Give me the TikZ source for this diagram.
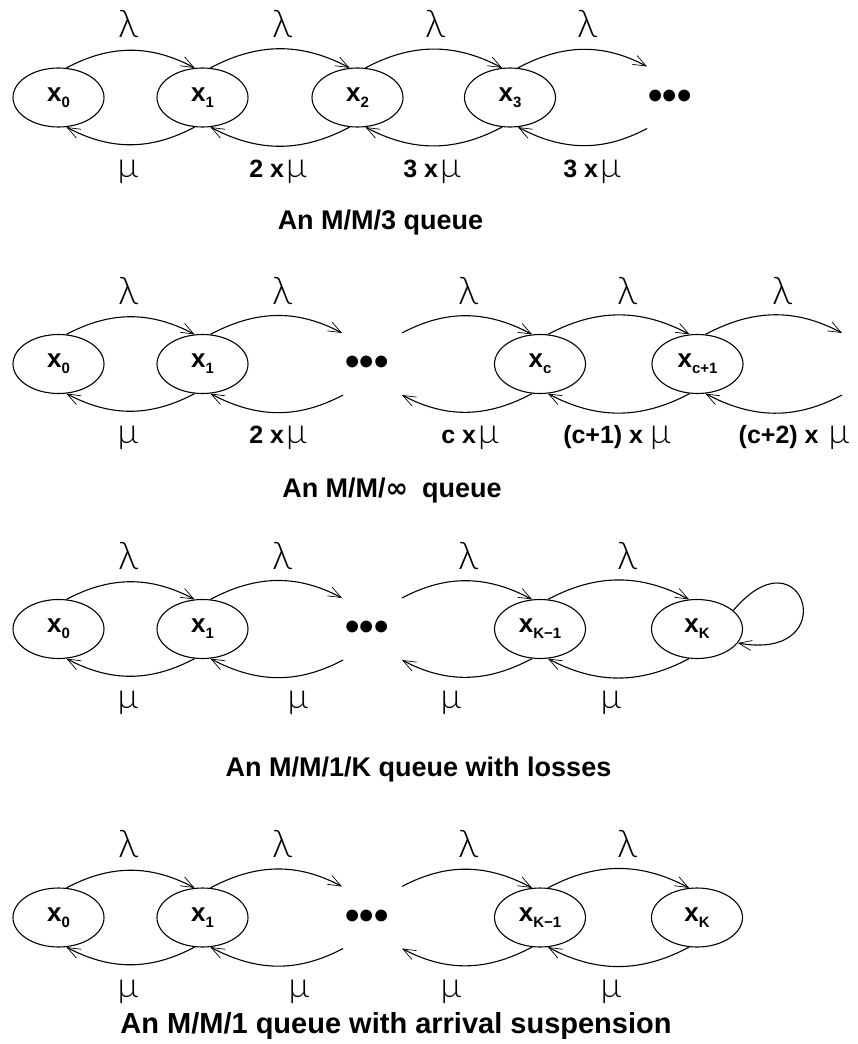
\documentclass[tikz,border=0pt]{standalone}
\usepackage{fontspec}
\setmainfont{Liberation Sans}
\newfontfamily\greekfont{Lato Light}
\newfontfamily\symbfont{DejaVu Sans}
\usetikzlibrary{shapes.geometric,arrows.meta}

% rate symbols and state names
\newcommand{\lam}{{\greekfont\mdseries\fontsize{38}{38}\selectfont λ}}
\newcommand{\mmu}{{\greekfont\mdseries\fontsize{35}{35}\selectfont μ}}
\newcommand{\xsub}[1]{x\raisebox{-6pt}{\fontsize{15}{15}\selectfont #1}}

\tikzset{
  stnode/.style={ellipse, draw, line width=1.1pt, minimum width=91pt, minimum height=59pt,
    inner sep=0pt, font=\fontsize{26}{26}\selectfont\bfseries},
  trans/.style={line width=1.1pt, -{Straight Barb[length=13pt,width=10pt,line width=0.7pt]}},
  fwd/.style={trans, out=28, in=152},
  bwd/.style={trans, out=-152, in=-28},
  rate/.style={anchor=base, font=\fontsize{25}{25}\selectfont\bfseries},
  caption/.style={anchor=base, font=\fontsize{27}{27}\selectfont\bfseries},
  dots/.style={font=\fontsize{41}{41}\selectfont\bfseries, inner sep=0pt}
}

\begin{document}
\begin{tikzpicture}[x=1pt, y=-1pt]
  % y grows downward, one unit per point
  \useasboundingbox (0,0) rectangle (858,1044);

  % M/M/3
  \begin{scope}[shift={(0,97.5)}]
    \node[stnode] (a0) at (58.5,0) {\xsub{0}};
    \node[stnode] (a1) at (202.5,0) {\xsub{1}};
    \node[stnode] (a2) at (357.5,0) {\xsub{2}};
    \node[stnode] (a3) at (510,0) {\xsub{3}};
    \node[dots] (a4) at (670,2) {•••};
    \coordinate (a4t) at (647,-31);
    \coordinate (a4b) at (647,31);
    \foreach \i/\j in {a0/a1,a1/a2,a2/a3} {
      \draw[fwd] (\i.75) to (\j.105);
      \draw[bwd] (\j.-105) to (\i.-75);
    }
    \draw[fwd] (a3.75) to (a4t);
    \draw[bwd] (a4b) to (a3.-75);
    \foreach \x/\n in {128/1,282/2,435/3,587/4}
      \node[rate] (al\n) at (\x,-60) {\lam};
    \node[rate] (am1) at (128,79.5) {\mmu};
    \node[rate] (am2) at (278,79.5) {2 x\hspace{2pt}\mmu};
    \node[rate] (am3) at (432,79.5) {3 x\hspace{2pt}\mmu};
    \node[rate] (am4) at (592,79.5) {3 x\hspace{2pt}\mmu};
  \end{scope}
  \node[caption] (capa) at (380.5,229) {An M/M/3 queue};

  % M/M/infinity
  \begin{scope}[shift={(0,364)}]
    \node[stnode] (b0) at (58.5,0) {\xsub{0}};
    \node[stnode] (b1) at (202.5,0) {\xsub{1}};
    \node[dots] (b2) at (367,2) {•••};
    \node[stnode] (b3) at (540,0) {\xsub{c}};
    \node[stnode] (b4) at (697.5,0) {\xsub{c+1}};
    \coordinate (b2lt) at (342,-31);
    \coordinate (b2lb) at (343,31);
    \coordinate (b2rt) at (402,-31);
    \coordinate (b2rb) at (402,31);
    \coordinate (b5t) at (842,-31);
    \coordinate (b5b) at (842,31);
    \foreach \i/\j in {b0/b1,b3/b4} {
      \draw[fwd] (\i.75) to (\j.105);
      \draw[bwd] (\j.-105) to (\i.-75);
    }
    \draw[fwd] (b1.75) to (b2lt);
    \draw[bwd] (b2lb) to (b1.-75);
    \draw[fwd] (b2rt) to (b3.105);
    \draw[bwd] (b3.-105) to (b2rb);
    \draw[fwd] (b4.75) to (b5t);
    \draw[bwd] (b5b) to (b4.-75);
    \foreach \x/\n in {128/1,282/2,468/3,627/4,782/5}
      \node[rate] (bl\n) at (\x,-60) {\lam};
    \node[rate] (bm1) at (128,79.5) {\mmu};
    \node[rate] (bm2) at (278,79.5) {2 x\hspace{2pt}\mmu};
    \node[rate] (bm3) at (470,79.5) {c x\hspace{2pt}\mmu};
    \node[rate] (bm4) at (617,79.5) {(c+1) x \mmu};
    \node[rate] (bm5) at (794,79.5) {(c+2) x\hspace{10pt}\mmu};
  \end{scope}
  \node[caption] (capb) at (392,497) {An M/M/{\symbfont\bfseries ∞}\hspace{14pt}queue};

  % M/M/1/K with losses
  \begin{scope}[shift={(0,629)}]
    \node[stnode] (c0) at (58.5,0) {\xsub{0}};
    \node[stnode] (c1) at (202.5,0) {\xsub{1}};
    \node[dots] (c2) at (367,2) {•••};
    \node[stnode] (c3) at (540,0) {\xsub{K−1}};
    \node[stnode] (c4) at (697,0) {\xsub{K}};
    \coordinate (c2lt) at (342,-31);
    \coordinate (c2lb) at (343,31);
    \coordinate (c2rt) at (402,-31);
    \coordinate (c2rb) at (402,31);
    \foreach \i/\j in {c0/c1,c3/c4} {
      \draw[fwd] (\i.75) to (\j.105);
      \draw[bwd] (\j.-105) to (\i.-75);
    }
    \draw[fwd] (c1.75) to (c2lt);
    \draw[bwd] (c2lb) to (c1.-75);
    \draw[fwd] (c2rt) to (c3.105);
    \draw[bwd] (c3.-105) to (c2rb);
    \draw[trans] (c4.27) to[out=50, in=-10, looseness=8.5] (c4.-19);
    \foreach \x/\n in {128/1,282/2,468/3,627/4}
      \node[rate] (cl\n) at (\x,-60) {\lam};
    \foreach \x/\n in {128/1,298/2,451/3,611/4}
      \node[rate] (cm\n) at (\x,79.5) {\mmu};
  \end{scope}
  \node[caption] (capc) at (418.5,776) {An M/M/1/K queue with losses};

  % M/M/1 with arrival suspension
  \begin{scope}[shift={(0,917.5)}]
    \node[stnode] (d0) at (58.5,0) {\xsub{0}};
    \node[stnode] (d1) at (202.5,0) {\xsub{1}};
    \node[dots] (d2) at (367,2) {•••};
    \node[stnode] (d3) at (540,0) {\xsub{K−1}};
    \node[stnode] (d4) at (697,0) {\xsub{K}};
    \coordinate (d2lt) at (342,-31);
    \coordinate (d2lb) at (343,31);
    \coordinate (d2rt) at (402,-31);
    \coordinate (d2rb) at (402,31);
    \foreach \i/\j in {d0/d1,d3/d4} {
      \draw[fwd] (\i.75) to (\j.105);
      \draw[bwd] (\j.-105) to (\i.-75);
    }
    \draw[fwd] (d1.75) to (d2lt);
    \draw[bwd] (d2lb) to (d1.-75);
    \draw[fwd] (d2rt) to (d3.105);
    \draw[bwd] (d3.-105) to (d2rb);
    \foreach \x/\n in {128/1,282/2,468/3,627/4}
      \node[rate] (dl\n) at (\x,-60) {\lam};
    \foreach \x/\n in {128/1,299/2,451/3,611/4}
      \node[rate] (dm\n) at (\x,79.5) {\mmu};
  \end{scope}
  \node[caption, font=\fontsize{29}{29}\selectfont\bfseries] (capd) at (396,1033)
    {An M/M/1 queue with arrival suspension};
\end{tikzpicture}
\end{document}
